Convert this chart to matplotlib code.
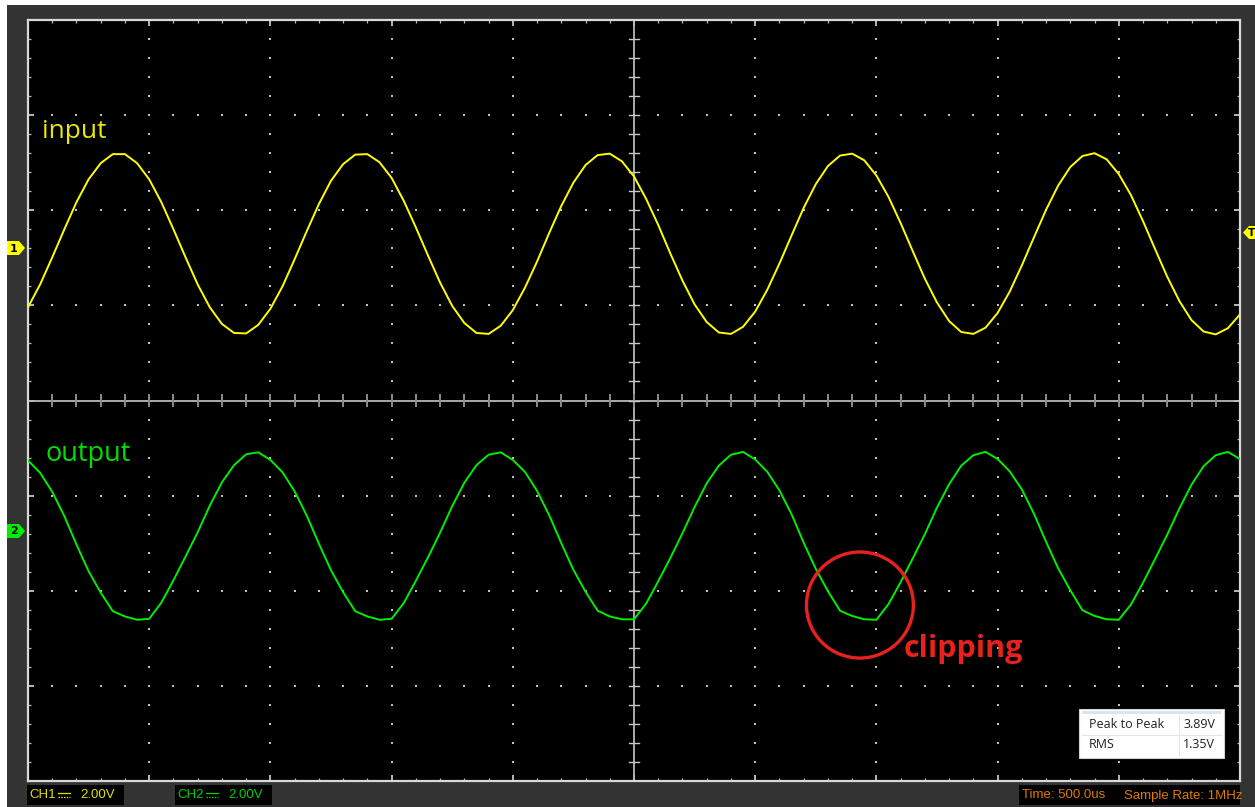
import numpy as np
import matplotlib
matplotlib.use("Agg")
import matplotlib.pyplot as plt
from matplotlib.patches import Rectangle, Polygon, Ellipse

# ---------------- data ----------------
SAMPLE_STEP_US = 50          # one sample every 0.1 division
TIME_PER_DIV_US = 500
VOLTS_PER_DIV = 2.0
CH1_OFFSET_DIV = 1.60        # ground marker "1"
CH2_OFFSET_DIV = -1.37       # ground marker "2"

input_volts = [
    -1.24, -0.76, -0.19, 0.40, 0.97, 1.45, 1.79, 1.98, 1.98, 1.79,
    1.45, 0.97, 0.40, -0.19, -0.76, -1.24, -1.59, -1.78, -1.79, -1.61,
    -1.27, -0.80, -0.23, 0.36, 0.93, 1.42, 1.77, 1.97, 1.98, 1.81,
    1.48, 1.00, 0.44, -0.15, -0.72, -1.21, -1.57, -1.78, -1.80, -1.63,
    -1.30, -0.83, -0.28, 0.32, 0.89, 1.38, 1.75, 1.96, 1.99, 1.83,
    1.51, 1.04, 0.49, -0.11, -0.68, -1.18, -1.55, -1.77, -1.80, -1.65,
    -1.33, -0.87, -0.32, 0.27, 0.85, 1.35, 1.73, 1.95, 1.99, 1.85,
    1.53, 1.08, 0.53, -0.06, -0.64, -1.14, -1.53, -1.76, -1.80, -1.67,
    -1.36, -0.91, -0.36, 0.23, 0.81, 1.32, 1.71, 1.94, 2.00, 1.87,
    1.56, 1.12, 0.57, -0.02, -0.60, -1.11, -1.51, -1.75, -1.81, -1.68,
    -1.39,
]

output_volts = [
    1.48, 1.22, 0.82, 0.31, -0.29, -0.85, -1.30, -1.69, -1.80, -1.87,
    -1.85, -1.51, -1.04, -0.54, -0.03, 0.53, 1.02, 1.38, 1.61, 1.65,
    1.49, 1.23, 0.83, 0.32, -0.27, -0.83, -1.29, -1.69, -1.80, -1.87,
    -1.85, -1.52, -1.05, -0.56, -0.04, 0.52, 1.01, 1.38, 1.60, 1.65,
    1.49, 1.24, 0.84, 0.33, -0.26, -0.82, -1.28, -1.68, -1.80, -1.86,
    -1.86, -1.53, -1.06, -0.57, -0.05, 0.50, 1.00, 1.37, 1.60, 1.66,
    1.50, 1.24, 0.85, 0.35, -0.25, -0.80, -1.27, -1.68, -1.79, -1.86,
    -1.87, -1.54, -1.08, -0.58, -0.07, 0.49, 0.98, 1.37, 1.59, 1.66,
    1.51, 1.25, 0.87, 0.36, -0.23, -0.79, -1.25, -1.67, -1.79, -1.86,
    -1.87, -1.55, -1.09, -0.59, -0.08, 0.47, 0.97, 1.36, 1.59, 1.66,
    1.51,
]

trace_labels = ["input", "output"]
ch_labels = ["CH1", "CH2"]
ch_scale_text = ["2.00V", "2.00V"]
time_text = "Time: 500.0us"
rate_text = "Sample Rate: 1MHz"
meas_names = ["Peak to Peak", "RMS"]
meas_values = ["3.89V", "1.35V"]

# ---------------- figure ----------------
W, H = 1255, 807
fig = plt.figure(figsize=(W / 100, H / 100), dpi=100)
fig.patch.set_facecolor("white")


def fx(px):
    return px / W


def fy(py):
    return 1 - py / H


def frect(x0, y0, x1, y1, **kw):
    r = Rectangle((fx(x0), fy(y1)), fx(x1) - fx(x0), fy(y0) - fy(y1),
                  transform=fig.transFigure, **kw)
    fig.patches.append(r)
    return r


def fpoly(pts, **kw):
    p = Polygon([(fx(a), fy(b)) for a, b in pts], closed=True,
                transform=fig.transFigure, **kw)
    fig.patches.append(p)
    return p


# dark gray window background (white strips at top / left)
frect(7, 5, W, H, facecolor="#333333", edgecolor="none", zorder=-10)

AX_L, AX_R, AX_T, AX_B = 28, 1240, 20, 781
ax = fig.add_axes([fx(AX_L), fy(AX_B), fx(AX_R) - fx(AX_L), fy(AX_T) - fy(AX_B)])
ax.set_zorder(1)
ax.set_facecolor("black")
ax.set_xlim(0, 10 * TIME_PER_DIV_US)
ax.set_ylim(-4, 4)
for s in ax.spines.values():
    s.set_color("#d8d8d8")
    s.set_linewidth(1.6)

ax.set_xticks(np.arange(0, 5001, 500))
ax.set_xticks(np.arange(0, 5001, 100), minor=True)
ax.set_yticks(np.arange(-4, 4.01, 1))
ax.set_yticks(np.arange(-4, 4.01, 0.2), minor=True)
ax.tick_params(which="both", direction="in", top=True, right=True,
               labelbottom=False, labelleft=False, color="#b8b8b8")
ax.tick_params(which="major", length=4, width=1.4)
ax.tick_params(which="minor", length=2.2, width=0.9)

# dotted graticule
xs_minor = np.arange(100, 5000, 100)
ys_minor = np.arange(-3.8, 3.81, 0.2)
dot_x, dot_y = [], []
for gx in range(500, 5000, 500):
    if gx == 2500:
        continue
    dot_x += [gx] * len(ys_minor)
    dot_y += list(ys_minor)
for gy in range(-3, 4):
    if gy == 0:
        continue
    dot_x += list(xs_minor)
    dot_y += [gy] * len(xs_minor)
ax.scatter(dot_x, dot_y, s=1.3, marker="s", color="#c0c0c0", linewidths=0, zorder=1)

# centre cross with ticks
ax.axhline(0, color="#c8c8c8", lw=1.2, zorder=1)
ax.axvline(2500, color="#c8c8c8", lw=1.2, zorder=1)
for gx in xs_minor:
    ax.plot([gx, gx], [-0.055, 0.055], color="#8c8c8c", lw=1.4, zorder=1)
for gy in ys_minor:
    ax.plot([2500 - 20, 2500 + 20], [gy, gy], color="#c8c8c8", lw=1.0, zorder=1)

# traces
t_us = np.arange(len(input_volts)) * SAMPLE_STEP_US
ax.plot(t_us, CH1_OFFSET_DIV + np.array(input_volts) / VOLTS_PER_DIV,
        color="#ffff00", lw=1.4, zorder=3)
t2_us = np.arange(len(output_volts)) * SAMPLE_STEP_US
ax.plot(t2_us, CH2_OFFSET_DIV + np.array(output_volts) / VOLTS_PER_DIV,
        color="#00ee00", lw=1.4, zorder=3)

# clipping annotation (circle)
ax.add_patch(Ellipse((3432, -2.15), 441, 1.115, fill=False, edgecolor="#e8201e",
                     lw=2.4, zorder=4))

# text drawn above the axes
TXT_Z = 20
fig.text(fx(42), fy(131), trace_labels[0], color="#e8e800", fontsize=19,
         family=["Open Sans", "DejaVu Sans"], va="center", ha="left", zorder=TXT_Z)
fig.text(fx(45), fy(454), trace_labels[1], color="#00dd00", fontsize=19.5,
         family=["Open Sans", "DejaVu Sans"], va="center", ha="left", zorder=TXT_Z)
fig.text(fx(904), fy(649), "clipping", color="#e8201e", fontsize=22,
         fontweight="bold", family=["Open Sans", "DejaVu Sans"],
         va="center", ha="left", zorder=TXT_Z)

# channel ground markers
fpoly([(7, 241), (19, 241), (25, 248), (19, 255), (7, 255)],
      facecolor="#ffff00", edgecolor="none", zorder=5)
fig.text(fx(14), fy(248.5), "1", color="black", fontsize=8, fontweight="bold",
         ha="center", va="center", zorder=6)
fpoly([(7, 524), (19, 524), (25, 531), (19, 538), (7, 538)],
      facecolor="#00ee00", edgecolor="none", zorder=5)
fig.text(fx(14), fy(531.5), "2", color="black", fontsize=8, fontweight="bold",
         ha="center", va="center", zorder=6)
fpoly([(1243, 232.5), (1249, 226), (1255, 226), (1255, 239), (1249, 239)],
      facecolor="#ffff00", edgecolor="none", zorder=5)
fig.text(fx(1252), fy(233), "T", color="black", fontsize=7.5, fontweight="bold",
         ha="center", va="center", zorder=6)

# bottom status bars
STATUS_FONT = ["Liberation Sans", "DejaVu Sans"]
frect(27, 785, 124, 805, facecolor="black", edgecolor="none", zorder=1)
frect(175, 785, 272, 805, facecolor="black", edgecolor="none", zorder=1)
frect(1019, 785, 1240, 805, facecolor="black", edgecolor="none", zorder=1)
for x0, lab, sc, col in [(29, ch_labels[0], ch_scale_text[0], "#e0e000"),
                         (177, ch_labels[1], ch_scale_text[1], "#00d000")]:
    fig.text(fx(x0), fy(795.5), lab, color=col, fontsize=9.5, family=STATUS_FONT,
             ha="left", va="center", zorder=2)
    # DC coupling symbol
    fig.lines.append(plt.Line2D([fx(x0 + 29), fx(x0 + 41)], [fy(793), fy(793)],
                                transform=fig.transFigure, color=col, lw=0.9, zorder=2))
    fig.lines.append(plt.Line2D([fx(x0 + 29), fx(x0 + 41)], [fy(797), fy(797)],
                                transform=fig.transFigure, color=col, lw=0.9,
                                linestyle=(0, (1.2, 1.0)), zorder=2))
    fig.text(fx(x0 + 51), fy(795.5), sc, color=col, fontsize=9.5, family=STATUS_FONT,
             ha="left", va="center", zorder=2)
fig.text(fx(1022), fy(795.5), time_text, color="#e07a00", fontsize=9.5,
         family=STATUS_FONT, ha="left", va="center", zorder=2)
fig.text(fx(1124), fy(795.5), rate_text, color="#e07a00", fontsize=9.5,
         family=STATUS_FONT, ha="left", va="center", zorder=2)

# measurement box
frect(1079, 709, 1224, 758, facecolor="white", edgecolor="#d0d0d0", lw=0.8, zorder=15)
frect(1082, 711, 1221, 714, facecolor="#dce4ee", edgecolor="none", zorder=16)
fig.lines.append(plt.Line2D([fx(1082), fx(1221)], [fy(735), fy(735)],
                            transform=fig.transFigure, color="#e4e4e4", lw=0.8, zorder=16))
fig.lines.append(plt.Line2D([fx(1179), fx(1179)], [fy(715), fy(755)],
                            transform=fig.transFigure, color="#e4e4e4", lw=0.8, zorder=16))
for row_y, nm, val in zip([725, 745], meas_names, meas_values):
    fig.text(fx(1089), fy(row_y), nm, color="#202020", fontsize=9,
             family=["Open Sans", "DejaVu Sans"], ha="left", va="center", zorder=17)
    fig.text(fx(1183), fy(row_y), val, color="#202020", fontsize=9,
             family=["Open Sans", "DejaVu Sans"], ha="left", va="center", zorder=17)

fig.savefig("out.png", dpi=100, facecolor=fig.get_facecolor())
